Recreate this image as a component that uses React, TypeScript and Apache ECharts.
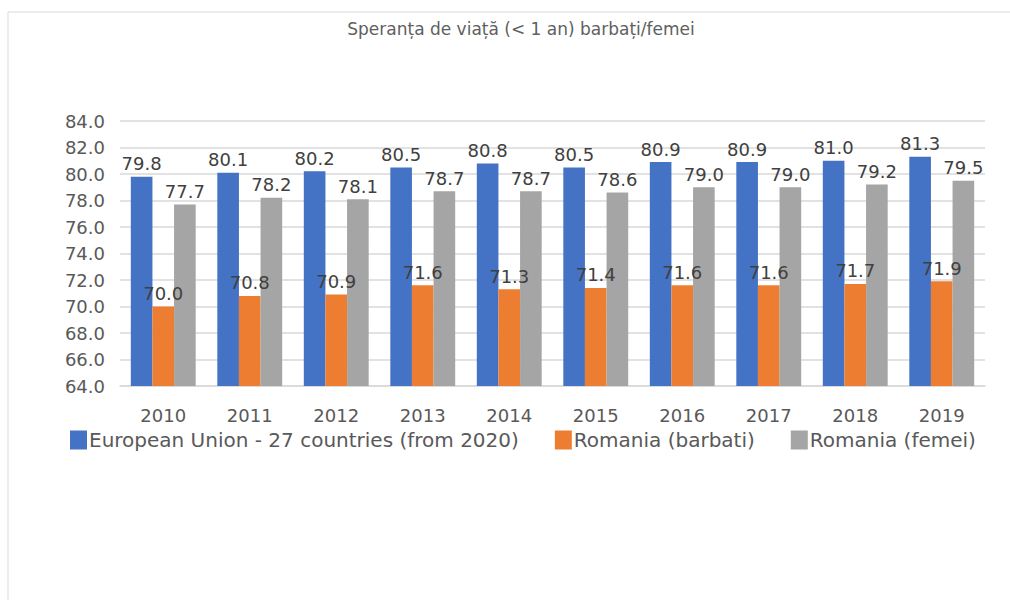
import React, { useEffect, useRef } from "react";
import * as echarts from "echarts";

const categories = ["2010", "2011", "2012", "2013", "2014", "2015", "2016", "2017", "2018", "2019"];
const euValues = [79.8, 80.1, 80.2, 80.5, 80.8, 80.5, 80.9, 80.9, 81.0, 81.3];
const roMenValues = [70.0, 70.8, 70.9, 71.6, 71.3, 71.4, 71.6, 71.6, 71.7, 71.9];
const roWomenValues = [77.7, 78.2, 78.1, 78.7, 78.7, 78.6, 79.0, 79.0, 79.2, 79.5];
const seriesNames = ["European Union - 27 countries (from 2020)", "Romania (barbati)", "Romania (femei)"];
const colors = ["#4472c4", "#ed7d31", "#a5a5a5"];
const titleText = "Speranța de viață (< 1 an) barbați/femei";

const FONT = "'DejaVu Sans', sans-serif";

export default function App() {
  const ref = useRef<HTMLDivElement>(null);
  useEffect(() => {
    if (!ref.current) return;
    const chart = echarts.init(ref.current, null, { renderer: "svg" });
    const data = [euValues, roMenValues, roWomenValues];
    chart.setOption({
      animation: false,
      backgroundColor: "#ffffff",
      title: {
        text: titleText,
        left: 516,
        top: 15,
        textAlign: "center",
        textStyle: { fontFamily: FONT, fontSize: 17, fontWeight: "normal", color: "#606060" },
      },
      graphic: [
        {
          type: "rect",
          shape: { x: 8, y: 12, width: 1100, height: 700 },
          style: { fill: "none", stroke: "#d9d9d9", lineWidth: 1 },
          silent: true,
          z: -1,
        },
      ],
      legend: {
        top: 425,
        left: 65,
        itemWidth: 17,
        itemHeight: 19,
        itemGap: 36,
        icon: "rect",
        textStyle: { fontFamily: FONT, fontSize: 20, color: "#595959", padding: [0, 0, 0, -3] },
        data: seriesNames,
      },
      grid: { left: 120, right: 25, top: 121, bottom: 214 },
      xAxis: {
        type: "category",
        data: categories,
        axisLine: { lineStyle: { color: "#d9d9d9", width: 1.5 } },
        axisTick: { show: false },
        axisLabel: { fontFamily: FONT, fontSize: 18, color: "#595959", margin: 20 },
      },
      yAxis: {
        type: "value",
        min: 64,
        max: 84,
        interval: 2,
        axisLine: { show: false },
        axisTick: { show: false },
        splitLine: { lineStyle: { color: "#d9d9d9", width: 1.5 } },
        axisLabel: {
          fontFamily: FONT,
          fontSize: 18,
          color: "#595959",
          margin: 15,
          formatter: (v: number) => v.toFixed(1),
        },
      },
      series: seriesNames.map((name, i) => ({
        name,
        type: "bar",
        data: data[i],
        barGap: "0%",
        barCategoryGap: "25%",
        itemStyle: { color: colors[i] },
        label: {
          show: true,
          position: "top",
          distance: 4,
          fontFamily: FONT,
          fontSize: 18,
          color: "#404040",
          formatter: (p: any) => Number(p.value).toFixed(1),
        },
      })),
    });
    return () => chart.dispose();
  }, []);
  return (
    <div style={{ position: "absolute", left: 0, top: 0, width: 1010, height: 600, background: "#fff" }}>
      <div ref={ref} style={{ width: 1010, height: 600 }} />
    </div>
  );
}
